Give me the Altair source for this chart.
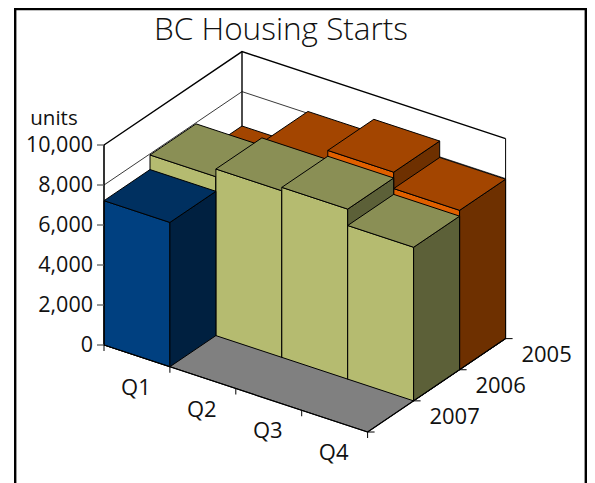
import altair as alt
import pandas as pd

title = "BC Housing Starts"
quarters = ["Q1", "Q2", "Q3", "Q4"]
years = ["2005", "2006", "2007"]
units_2005 = [6280, 8095, 8790, 7970]
units_2006 = [7945, 8330, 8500, 7680]
units_2007 = [7215, None, None, None]
value_ticks = [0, 2000, 4000, 6000, 8000, 10000]
FONT = "Open Sans"

# oblique projection of (quarter, depth, units) onto the picture
ORIGIN = (104.0, 345.0)
QV = (65.9, 21.75)
DV = (46.0, -31.13)
UNIT = 0.02


def proj(q, d, v=0):
    return (ORIGIN[0] + q * QV[0] + d * DV[0],
            ORIGIN[1] + q * QV[1] + d * DV[1] - v * UNIT)


rows, lines, back_lines = [], [], []
pid = 0


def poly(pts, fill):
    global pid
    pid += 1
    for i, (x, y) in enumerate(pts):
        rows.append({"px": x, "py": y, "pid": f"p{pid:03d}", "i": i, "fill": fill})


def outline(pts, width, color="#000000", store=None):
    global pid
    pid += 1
    target = lines if store is None else store
    for i, (x, y) in enumerate(pts):
        target.append({"px": x, "py": y, "pid": f"l{pid:03d}", "i": i, "w": width, "c": color})


# gridlines and wall edges, drawn behind the bars
for v in value_ticks[1:-1]:
    outline([proj(0, 0, v), proj(0, 3, v), proj(4, 3, v)], 0.9, "#222222", back_lines)
outline([proj(0, 0, 10000), proj(0, 3, 10000), proj(4, 3, 10000)], 1.4, "#000000", back_lines)
outline([proj(4, 3, 10000), proj(4, 3)], 1, "#000000", back_lines)
outline([proj(0, 3, 10000), proj(0, 3)], 1.4, "#000000", back_lines)

# floor
poly([proj(0, 0), proj(4, 0), proj(4, 3), proj(0, 3)], "#808080")

palette = {
    "2005": ("#e06000", "#a34500", "#6e3000"),
    "2006": ("#b5bb70", "#8a8f55", "#5c6038"),
    "2007": ("#004080", "#003060", "#002040"),
}
series = [("2005", 2, units_2005), ("2006", 1, units_2006), ("2007", 0, units_2007)]
for name, d, vals in series:
    front, top, side = palette[name]
    for q, v in enumerate(vals):
        if v is None:
            continue
        poly([proj(q, d, 0), proj(q + 1, d, 0), proj(q + 1, d, v), proj(q, d, v)], front)
        poly([proj(q + 1, d, 0), proj(q + 1, d + 1, 0), proj(q + 1, d + 1, v), proj(q + 1, d, v)], side)
        poly([proj(q, d, v), proj(q + 1, d, v), proj(q + 1, d + 1, v), proj(q, d + 1, v)], top)

# axis lines and ticks
outline([proj(0, 0, 10000), proj(0, 0)], 1.6)
for v in value_ticks:
    x, y = proj(0, 0, v)
    outline([(x - 7, y), (x, y)], 1.2, "#555555")
outline([proj(0, 0), proj(4, 0)], 1.2)
outline([proj(4, 0), proj(4, 3)], 1.2)
for q in range(5):
    x, y = proj(q, 0)
    outline([(x, y), (x, y + 6)], 1)
for d in range(4):
    x, y = proj(4, d)
    outline([(x, y), (x + 7, y)], 1)

# frame, running off the bottom of the picture
outline([(15.2, 483), (15.2, 9), (585.8, 9), (585.8, 483)], 2.4)

text_rows = []


def label(t, x, y, size):
    text_rows.append({"t": t, "px": x, "py": y, "size": size})


for v in value_ticks:
    _, y = proj(0, 0, v)
    label(f"{v:,}", 93, y + 1, 21.5)
label("units", 54, 119, 20.5)
for n, q in enumerate(quarters):
    x, y = proj(n + 0.5, 0)
    label(q, x - 1, y + 32, 22)
for n, yr in enumerate(reversed(years)):
    x, y = proj(4, n + 0.5)
    label(yr, x + 64, y + 1, 22)

X = alt.X("px:Q", scale=alt.Scale(domain=[8, 587], range=[0, 579], nice=False, zero=False), axis=None)
Y = alt.Y("py:Q", scale=alt.Scale(domain=[8, 483], range=[0, 475], nice=False, zero=False), axis=None)

back = alt.Chart(pd.DataFrame(back_lines)).mark_line().encode(
    x=X, y=Y, detail="pid:N", order="i:Q",
    stroke=alt.Stroke("c:N", scale=None),
    strokeWidth=alt.StrokeWidth("w:Q", scale=None),
)
solids = alt.Chart(pd.DataFrame(rows)).mark_line(
    interpolate="linear-closed", stroke="#000000", strokeWidth=1, strokeJoin="miter"
).encode(x=X, y=Y, detail="pid:N", order="i:Q", fill=alt.Fill("fill:N", scale=None))
front_lines = alt.Chart(pd.DataFrame(lines)).mark_line().encode(
    x=X, y=Y, detail="pid:N", order="i:Q",
    stroke=alt.Stroke("c:N", scale=None),
    strokeWidth=alt.StrokeWidth("w:Q", scale=None),
)

tdf = pd.DataFrame(text_rows)
is_value = tdf.t.str.contains(",") | (tdf.t == "0")
center = alt.Chart(tdf[~is_value]).mark_text(
    font=FONT, align="center", baseline="middle", color="#111111"
).encode(x=X, y=Y, text="t:N", size=alt.Size("size:Q", scale=None))
right = alt.Chart(tdf[is_value]).mark_text(
    font=FONT, align="right", baseline="middle", color="#111111"
).encode(x=X, y=Y, text="t:N", size=alt.Size("size:Q", scale=None))
head = alt.Chart(pd.DataFrame({"t": [title], "px": [281], "py": [31]})).mark_text(
    font=FONT, fontWeight=300, fontSize=31.5, align="center", baseline="middle", color="#111111"
).encode(x=X, y=Y, text="t:N")

chart = alt.layer(back, solids, front_lines, center, right, head).properties(
    width=579, height=475, padding=0, autosize=alt.AutoSizeParams(type="none"),
    background="#ffffff",
).configure_view(stroke=None)

chart.save("out.html", embed_options={"renderer": "svg", "actions": False})
